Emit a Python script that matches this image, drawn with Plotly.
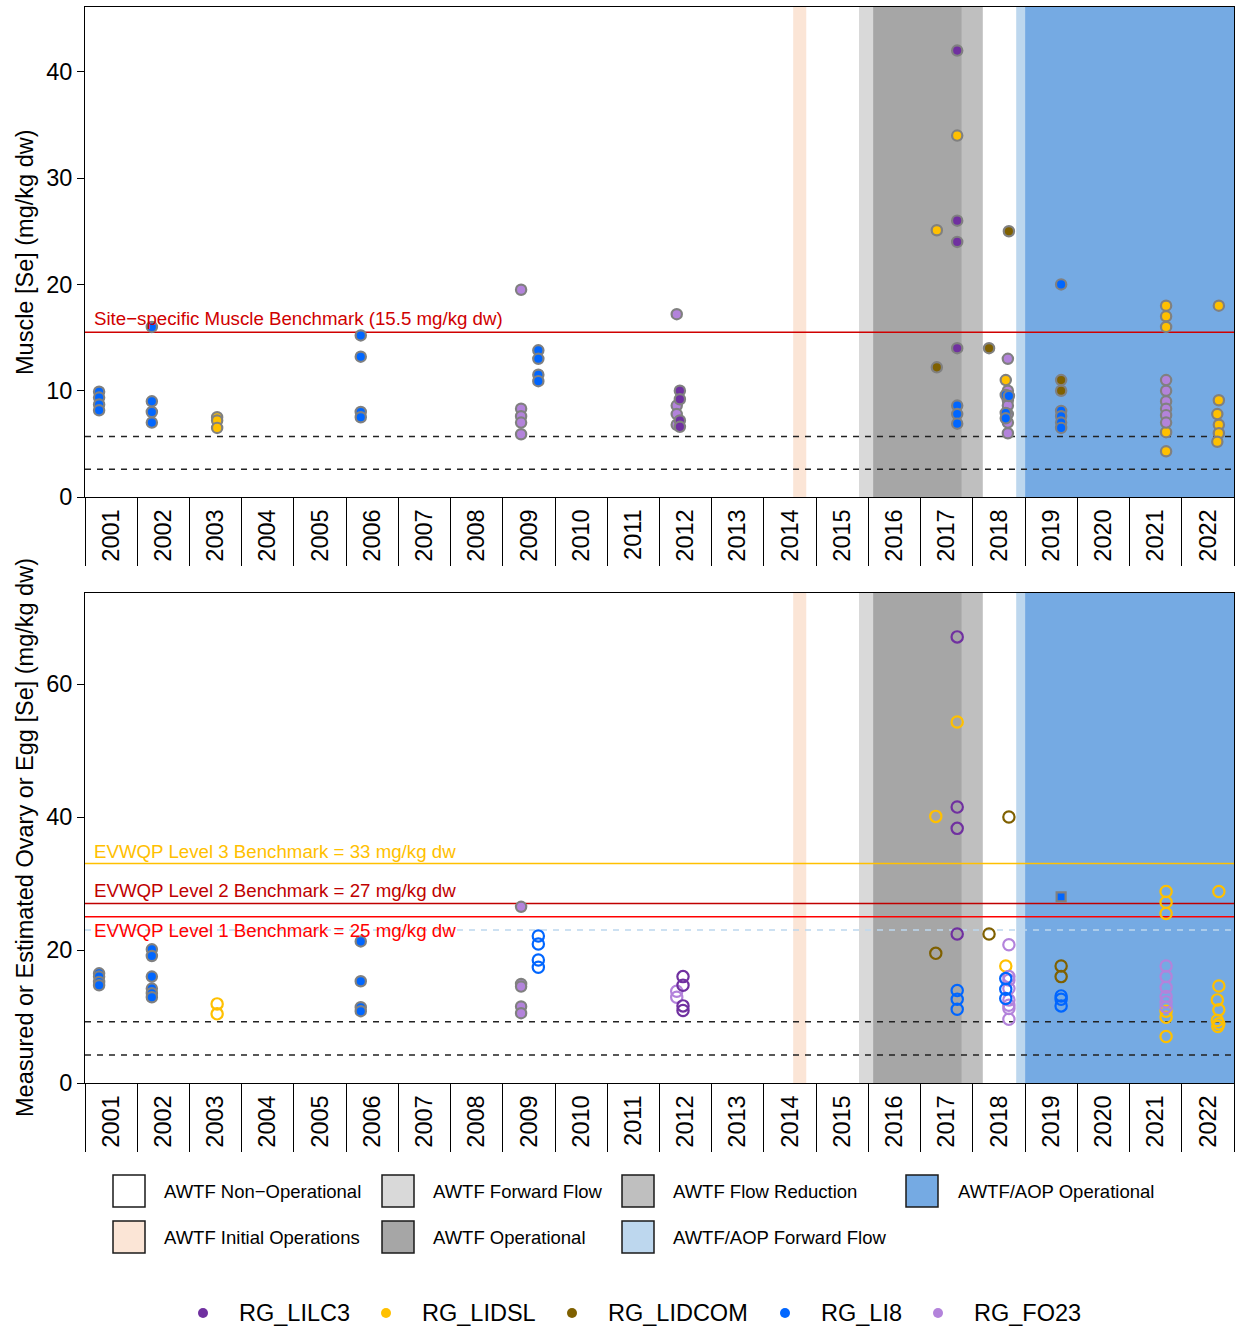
import plotly.graph_objects as go

W, H = 1238, 1331
FONT = "Liberation Sans, Arial, sans-serif"

# ---------------- axis categories ----------------
years = list(range(2001, 2023))
year_labels = [str(y) for y in years]
year_edges = [y - 0.5 for y in years] + [2022.5]

# ---------------- monitoring areas ----------------
sites = ["RG_LILC3", "RG_LIDSL", "RG_LIDCOM", "RG_LI8", "RG_FO23"]
site_colors = ["#7030A0", "#FFC000", "#7F6000", "#0066FF", "#B383DB"]

# ---------------- muscle [Se] (mg/kg dw); x = sampling date as decimal year ----------------
muscle_lilc3_x = [2011.89, 2011.89, 2011.89, 2011.89, 2017.20, 2017.20, 2017.20, 2017.20]
muscle_lilc3_y = [10.0, 9.2, 7.2, 6.6, 42.0, 26.0, 24.0, 14.0]

muscle_lidsl_x = [2003.03, 2003.03, 2003.03, 2016.81, 2017.20, 2018.13,
                  2021.20, 2021.20, 2021.20, 2021.20, 2021.20,
                  2022.21, 2022.21, 2022.18, 2022.21, 2022.21, 2022.18]
muscle_lidsl_y = [7.5, 7.2, 6.5, 25.1, 34.0, 11.0,
                  18.0, 17.0, 16.0, 6.1, 4.3,
                  18.0, 9.1, 7.8, 6.8, 6.0, 5.2]

muscle_lidcom_x = [2016.81, 2017.81, 2018.19, 2019.19, 2019.19]
muscle_lidcom_y = [12.2, 14.0, 25.0, 11.0, 10.0]

muscle_li8_x = [2000.77, 2000.77, 2000.77, 2000.77,
                2001.78, 2001.78, 2001.78, 2001.78,
                2005.78, 2005.78, 2005.78, 2005.78,
                2009.18, 2009.18, 2009.18, 2009.18,
                2017.20, 2017.20, 2017.20,
                2018.13, 2018.13, 2018.13, 2018.19,
                2019.19, 2019.19, 2019.19, 2019.19, 2019.19]
muscle_li8_y = [9.9, 9.35, 8.7, 8.15,
                16.0, 9.0, 8.0, 7.0,
                15.2, 13.2, 8.0, 7.5,
                13.8, 13.0, 11.5, 10.9,
                8.6, 7.8, 6.9,
                9.6, 7.9, 7.4, 9.5,
                20.0, 8.1, 7.6, 7.0, 6.5]

muscle_fo23_x = [2008.85, 2008.85, 2008.85, 2008.85, 2008.85,
                 2011.83, 2011.83, 2011.83, 2011.83,
                 2018.17, 2018.17, 2018.17, 2018.17, 2018.17, 2018.17, 2018.17,
                 2021.20, 2021.20, 2021.20, 2021.20, 2021.20, 2021.20]
muscle_fo23_y = [19.5, 8.3, 7.6, 7.0, 5.9,
                 17.2, 8.6, 7.8, 6.8,
                 13.0, 10.0, 9.1, 8.6, 7.8, 7.0, 6.0,
                 11.0, 10.0, 9.0, 8.3, 7.7, 7.0]

# ---------------- ovary / egg [Se] (mg/kg dw) ----------------
# measured values (filled symbols)
ovary_meas_li8_x = [2000.77, 2000.77, 2000.77, 2000.77,
                    2001.78, 2001.78, 2001.78, 2001.78, 2001.78, 2001.78,
                    2005.78, 2005.78, 2005.78, 2005.78]
ovary_meas_li8_y = [16.5, 16.0, 15.2, 14.7,
                    20.1, 19.1, 16.0, 14.2, 13.5, 12.9,
                    21.3, 15.3, 11.4, 10.8]
ovary_meas_fo23_x = [2008.85, 2008.85, 2008.85, 2008.85, 2008.85]
ovary_meas_fo23_y = [26.5, 14.9, 14.5, 11.5, 10.5]
egg_meas_li8_x = [2019.19]
egg_meas_li8_y = [28.0]

# estimated from muscle (open symbols)
ovary_est_lilc3_x = [2011.95, 2011.95, 2011.95, 2011.95, 2017.20, 2017.20, 2017.20, 2017.20]
ovary_est_lilc3_y = [16.0, 14.7, 11.6, 10.9, 67.1, 41.5, 38.3, 22.4]

ovary_est_lidsl_x = [2003.03, 2003.03, 2016.79, 2017.20, 2018.13,
                     2021.20, 2021.20, 2021.20, 2021.20, 2021.20, 2021.20,
                     2022.21, 2022.21, 2022.18, 2022.21, 2022.18, 2022.21, 2022.19]
ovary_est_lidsl_y = [11.9, 10.4, 40.1, 54.3, 17.6,
                     28.8, 27.2, 25.5, 10.8, 9.9, 7.0,
                     28.8, 14.6, 12.5, 11.0, 9.4, 8.9, 8.5]

ovary_est_lidcom_x = [2016.79, 2017.81, 2018.19, 2019.19, 2019.19]
ovary_est_lidcom_y = [19.5, 22.4, 40.0, 17.6, 16.0]

ovary_est_li8_x = [2009.18, 2009.18, 2009.18, 2009.18,
                   2017.20, 2017.20, 2017.20,
                   2018.13, 2018.13, 2018.13,
                   2019.19, 2019.19, 2019.19]
ovary_est_li8_y = [22.1, 20.9, 18.5, 17.4,
                   13.9, 12.6, 11.1,
                   15.7, 14.1, 12.7,
                   13.1, 12.6, 11.6]

ovary_est_fo23_x = [2011.83, 2011.83,
                    2018.19, 2018.19, 2018.19, 2018.19, 2018.19, 2018.19, 2018.19, 2018.19,
                    2021.20, 2021.20, 2021.20, 2021.20, 2021.20, 2021.20]
ovary_est_fo23_y = [13.8, 12.9,
                    20.8, 16.0, 15.5, 14.2, 12.5, 11.7, 11.2, 9.6,
                    17.6, 16.0, 14.4, 13.0, 12.2, 11.4]

# ---------------- treatment periods ----------------
period_names = ["AWTF Non−Operational", "AWTF Initial Operations", "AWTF Forward Flow",
                "AWTF Operational", "AWTF Flow Reduction", "AWTF/AOP Forward Flow",
                "AWTF/AOP Operational"]
period_colors = ["#FFFFFF", "#FBE5D6", "#D9D9D9", "#A6A6A6", "#BFBFBF", "#BDD7EE", "#75AAE3"]
period_start = [None, 2014.06, 2015.32, 2015.59, 2017.29, 2018.33, 2018.50]
period_end = [None, 2014.31, 2015.59, 2017.29, 2017.69, 2018.50, 2022.50]

# ---------------- benchmarks ----------------
muscle_benchmark = 15.5
muscle_dashed = [5.7, 2.6]
ovary_benchmarks = [33, 27, 25]
ovary_benchmark_labels = ["EVWQP Level 3 Benchmark = 33 mg/kg dw",
                          "EVWQP Level 2 Benchmark = 27 mg/kg dw",
                          "EVWQP Level 1 Benchmark = 25 mg/kg dw"]
ovary_benchmark_colors = ["#FFC000", "#C00000", "#FF0000"]
ovary_light_dashed = 23
ovary_dashed = [9.2, 4.2]


def px_x(px):
    return px / W


def px_y(py):
    return 1 - py / H


X_DOM = [px_x(85), px_x(1234)]
TOP_DOM = [px_y(497), px_y(7)]
BOT_DOM = [px_y(1083), px_y(593)]
XR = [2000.5, 2022.5]

fig = go.Figure()

# shaded treatment periods on both panels
shapes = []
for xref, yref in (("x", "y domain"), ("x2", "y2 domain")):
    for s, e, c in zip(period_start, period_end, period_colors):
        if s is None:
            continue
        shapes.append(dict(type="rect", xref=xref, yref=yref, x0=s, x1=e, y0=0, y1=1,
                           fillcolor=c, line=dict(width=0), layer="below"))


def hline(y, color, width, dash, xa, ya):
    fig.add_trace(go.Scatter(x=XR, y=[y, y], mode="lines", xaxis=xa, yaxis=ya,
                             line=dict(color=color, width=width, dash=dash),
                             hoverinfo="skip", showlegend=False))


# reference lines
hline(muscle_benchmark, "#D00000", 1.5, "solid", "x", "y")
for v in muscle_dashed:
    hline(v, "#222222", 1.5, "6px,6px", "x", "y")
hline(ovary_light_dashed, "#BDD7EE", 1.5, "6px,6px", "x2", "y2")
for v, c in zip(ovary_benchmarks, ovary_benchmark_colors):
    hline(v, c, 1.5, "solid", "x2", "y2")
for v in ovary_dashed:
    hline(v, "#222222", 1.5, "6px,6px", "x2", "y2")

OUTLINE = "#808080"


def filled(x, y, color, xa, ya, symbol="circle", size=10.3):
    fig.add_trace(go.Scatter(x=x, y=y, mode="markers", xaxis=xa, yaxis=ya,
                             marker=dict(symbol=symbol, size=size, color=color,
                                         line=dict(color=OUTLINE, width=2.2)),
                             showlegend=False))


def hollow(x, y, color):
    fig.add_trace(go.Scatter(x=x, y=y, mode="markers", xaxis="x2", yaxis="y2",
                             marker=dict(symbol="circle-open", size=11.3, color=color,
                                         line=dict(color=color, width=2.2)),
                             showlegend=False))


c = dict(zip(sites, site_colors))

# muscle panel
filled(muscle_lidsl_x, muscle_lidsl_y, c["RG_LIDSL"], "x", "y")
filled(muscle_lidcom_x, muscle_lidcom_y, c["RG_LIDCOM"], "x", "y")
filled(muscle_fo23_x, muscle_fo23_y, c["RG_FO23"], "x", "y")
filled(muscle_lilc3_x, muscle_lilc3_y, c["RG_LILC3"], "x", "y")
filled(muscle_li8_x, muscle_li8_y, c["RG_LI8"], "x", "y")

# ovary / egg panel
filled(ovary_meas_li8_x, ovary_meas_li8_y, c["RG_LI8"], "x2", "y2")
filled(ovary_meas_fo23_x, ovary_meas_fo23_y, c["RG_FO23"], "x2", "y2")
filled(egg_meas_li8_x, egg_meas_li8_y, c["RG_LI8"], "x2", "y2", symbol="square", size=9)
hollow(ovary_est_lidsl_x, ovary_est_lidsl_y, c["RG_LIDSL"])
hollow(ovary_est_lidcom_x, ovary_est_lidcom_y, c["RG_LIDCOM"])
hollow(ovary_est_fo23_x, ovary_est_fo23_y, c["RG_FO23"])
hollow(ovary_est_lilc3_x, ovary_est_lilc3_y, c["RG_LILC3"])
hollow(ovary_est_li8_x, ovary_est_li8_y, c["RG_LI8"])

annotations = []

# benchmark labels
annotations.append(dict(text="Site−specific Muscle Benchmark (15.5 mg/kg dw)", xref="paper", yref="y",
                        x=px_x(92), y=muscle_benchmark, xanchor="left", yanchor="bottom", yshift=1,
                        showarrow=False, font=dict(size=18.7, color="#D00000", family=FONT)))
for i, (v, lab, col) in enumerate(zip(ovary_benchmarks, ovary_benchmark_labels, ovary_benchmark_colors)):
    below = i == 2
    annotations.append(dict(text=lab, xref="paper", yref="y2", x=px_x(92), y=v,
                            xanchor="left", yanchor="top" if below else "bottom",
                            yshift=-1 if below else 0, showarrow=False,
                            font=dict(size=18.7, color=col, family=FONT)))

# axis titles
annotations.append(dict(text="Muscle [Se] (mg/kg dw)", xref="paper", yref="paper",
                        x=px_x(25), y=px_y(252), xanchor="center", yanchor="middle",
                        textangle=-90, showarrow=False,
                        font=dict(size=23.5, color="black", family=FONT)))
annotations.append(dict(text="Measured or Estimated Ovary or Egg [Se] (mg/kg dw)", xref="paper", yref="paper",
                        x=px_x(25), y=px_y(838), xanchor="center", yanchor="middle",
                        textangle=-90, showarrow=False,
                        font=dict(size=23.5, color="black", family=FONT)))

# period key
key_cols_box = [113, 382, 622, 906]
key_cols_text = [163, 432, 672, 957]
key_rows = [1191, 1237]
key_layout = [(0, 0), (1, 0), (0, 1), (1, 1), (0, 2), (1, 2), (0, 3)]  # (row, col) per period
for name, col, (r, k) in zip(period_names, period_colors, key_layout):
    cy = key_rows[r]
    bx = key_cols_box[k]
    shapes.append(dict(type="rect", xref="paper", yref="paper",
                       x0=px_x(bx), x1=px_x(bx + 32), y0=px_y(cy + 16), y1=px_y(cy - 16),
                       fillcolor=col, line=dict(color="#1a1a1a", width=1.5)))
    annotations.append(dict(text=name, xref="paper", yref="paper", x=px_x(key_cols_text[k] - 1), y=px_y(cy),
                            xanchor="left", yanchor="middle", showarrow=False,
                            font=dict(size=18.5, color="black", family=FONT)))

# site key
dot_x = [203, 386, 572, 785, 938]
lab_x = [238, 421, 607, 820, 973]
for s, col, dx, lx in zip(sites, site_colors, dot_x, lab_x):
    shapes.append(dict(type="circle", xref="paper", yref="paper",
                       x0=px_x(dx - 5), x1=px_x(dx + 5), y0=px_y(1318), y1=px_y(1308),
                       fillcolor=col, line=dict(width=0)))
    annotations.append(dict(text=s, xref="paper", yref="paper", x=px_x(lx - 1), y=px_y(1313),
                            xanchor="left", yanchor="middle", showarrow=False,
                            font=dict(size=23.5, color="black", family=FONT)))

xaxis_common = dict(range=XR, domain=X_DOM, tickmode="array", tickvals=years, ticktext=year_labels,
                    tickangle=-90, ticks="", showgrid=False, zeroline=False,
                    showline=True, mirror=True, linecolor="black", linewidth=1,
                    tickfont=dict(size=23.5, color="black", family=FONT),
                    ticklabelstandoff=2, automargin=False,
                    minor=dict(tickmode="array", tickvals=year_edges, ticks="outside",
                               ticklen=68, tickcolor="black", tickwidth=1, showgrid=False))
yaxis_common = dict(showgrid=False, zeroline=False, showline=True, mirror=True,
                    linecolor="black", linewidth=1, ticks="outside", ticklen=7,
                    tickcolor="black", tickwidth=1, automargin=False,
                    tickfont=dict(size=23.5, color="black", family=FONT))

fig.update_layout(
    width=W, height=H, autosize=False,
    margin=dict(l=0, r=0, t=0, b=0, pad=0, autoexpand=False),
    paper_bgcolor="white", plot_bgcolor="white",
    showlegend=False,
    font=dict(family=FONT, color="black"),
    xaxis=dict(anchor="y", **xaxis_common),
    xaxis2=dict(anchor="y2", **xaxis_common),
    yaxis=dict(anchor="x", domain=TOP_DOM, range=[0, 46.1], tickvals=[0, 10, 20, 30, 40], **yaxis_common),
    yaxis2=dict(anchor="x2", domain=BOT_DOM, range=[0, 73.7], tickvals=[0, 20, 40, 60], **yaxis_common),
    shapes=shapes,
    annotations=annotations,
)

fig.write_html("out.html")
